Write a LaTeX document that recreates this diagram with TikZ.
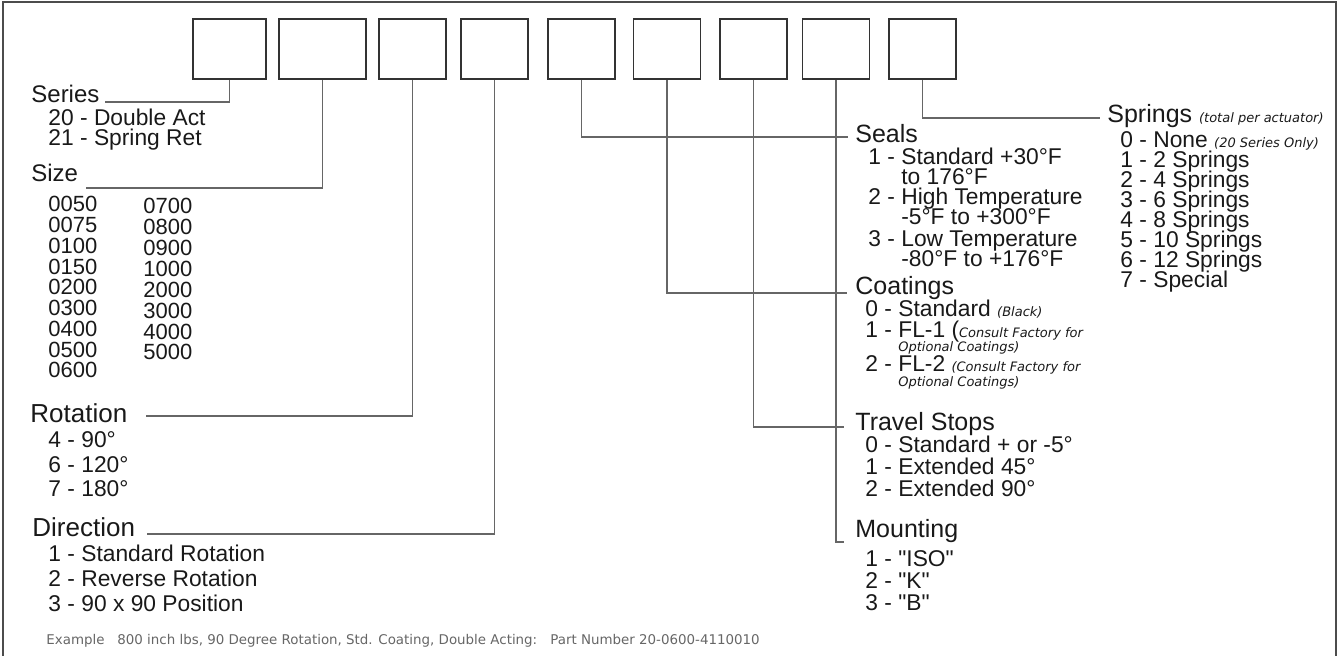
\documentclass[tikz,border=0pt]{standalone}
\usepackage{fontspec}
\setmainfont{Liberation Sans}
\newfontfamily\plainfont{Liberation Sans}
\newfontfamily\notefont{DejaVu Sans}
\newcommand{\note}[1]{{\notefont\itshape\fontsize{6.5}{7}\selectfont #1}}
\newcommand{\ind}{\phantom{1 - }}
\lineskiplimit=-20pt
\lineskip=0pt

\begin{document}
\begin{tikzpicture}[x=0.5pt, y=-0.5pt]
  \tikzset{
    slot/.style={draw=black!80, line width=0.8pt, minimum height=30pt, inner sep=0pt},
    lead/.style={draw=black!60, line width=0.7pt},
    head/.style={anchor=base west, inner sep=0pt, text=black!90, font=\fontsize{12.5}{12}\selectfont},
    items/.style={anchor=base west, inner sep=0pt, align=left, text=black!90, font=\fontsize{11.4}{10}\selectfont},
    sample/.style={anchor=base west, inner sep=0pt, text=black!60, font=\notefont\fontsize{6.7}{8}\selectfont}
  }
  \useasboundingbox (0,0) rectangle (1344,656);
  \draw[black!70, line width=1pt] (3,656) -- (3,2) -- (1336,2) -- (1336,656);

  \node[slot, minimum width=36.5pt] (b1) at (229.5,49) {};
  \node[slot, minimum width=43.5pt] (b2) at (322.5,49) {};
  \foreach \n/\c in {3/412.5,4/494.5,5/581.5,6/667,7/753.5,8/836,9/922.5}
    \node[slot, minimum width=33.5pt] (b\n) at (\c,49) {};

  % multi-line lists sit on the baseline of their last line
  \node[head, font=\fontsize{12}{12}\selectfont] (series) at (31,103) {Series};
  \node[items] (seritems) at (48,146) {20 - Double Act\\21 - Spring Ret};
  \node[head, font=\fontsize{12}{12}\selectfont] (size) at (31,182) {Size};
  \node[items, font=\fontsize{11}{10.375}\selectfont] (sizea) at (48,378)
    {0050\\0075\\0100\\0150\\0200\\0300\\0400\\0500\\0600};
  \node[items, font=\fontsize{11}{10.43}\selectfont] (sizeb) at (143,360)
    {0700\\0800\\0900\\1000\\2000\\3000\\4000\\5000};
  \node[head, font=\fontsize{13}{13}\selectfont] (rot) at (30,423) {Rotation};
  \node[items, font=\fontsize{11.4}{12.25}\selectfont] (rotitems) at (48,497)
    {4 - 90°\\6 - 120°\\7 - 180°};
  \node[head, font=\fontsize{13}{13}\selectfont] (dir) at (32,537) {Direction};
  \node[items, font=\fontsize{11.4}{12.5}\selectfont] (diritems) at (48,612)
    {1 - Standard Rotation\\2 - Reverse Rotation\\3 - 90 x 90 Position};

  \node[head] (seals) at (855,143) {Seals};
  \node[items] (sealitems) at (868,267)
    {1 - Standard +30°F\\\ind to 176°F\\2 - High Temperature\\\ind -5°F to +300°F\\[1pt]3 - Low Temperature\\\ind -80°F to +176°F};
  \node[head] (coat) at (855,295) {Coatings};
  \node[items, font=\fontsize{11.4}{10.25}\selectfont] (coatitems) at (865,387)
    {0 - Standard \note{(Black)}\\1 - FL-1 (\note{Consult Factory for}\\[-3.25pt]\ind\note{Optional Coatings)}\\2 - FL-2 \note{(Consult Factory for}\\[-2.75pt]\ind\note{Optional Coatings)}};
  \node[head] (travel) at (855,431) {Travel Stops};
  \node[items, font=\fontsize{11.4}{11}\selectfont] (travelitems) at (865,497)
    {0 - Standard + or -5°\\1 - Extended 45°\\2 - Extended 90°};
  \node[head] (mount) at (855,538) {Mounting};
  \node[items, font=\plainfont\fontsize{11.4}{11}\selectfont] (mountitems) at (865,611)
    {1 - "ISO"\\2 - "K"\\3 - "B"};
  \node[head] (springs) at (1107,123) {Springs \note{(total per actuator)}};
  \node[items, font=\fontsize{11.4}{10.07}\selectfont] (springitems) at (1120,288)
    {0 - None \note{(20 Series Only)}\\1 - 2 Springs\\2 - 4 Springs\\3 - 6 Springs\\4 - 8 Springs\\5 - 10 Springs\\6 - 12 Springs\\7 - Special};

  \draw[lead] (b1.south) |- ([xshift=2.5pt,yshift=0.5pt]series.base east);
  \draw[lead] (b2.south) |- ([xshift=4pt,yshift=-3pt]size.base east);
  \draw[lead] (b3.south) |- ([xshift=9pt,yshift=3.5pt]rot.base east);
  \draw[lead] (b4.south) |- ([xshift=6pt,yshift=1.5pt]dir.base east);
  \draw[lead] (b5.south) |- ([xshift=-3.5pt,yshift=3pt]seals.base west);
  \draw[lead] (b6.south) |- ([xshift=-4pt,yshift=1pt]coat.base west);
  \draw[lead] (b7.south) |- ([xshift=-5.5pt,yshift=2pt]travel.base west);
  \draw[lead] (b8.south) |- ([xshift=-5.5pt,yshift=-2pt]mount.base west);
  \draw[lead] (b9.south) |- ([xshift=-3.5pt,yshift=2.5pt]springs.base west);

  \node[sample] (ex) at (46,645) {Example};
  \node[sample] (exdesc) at (117,645) {800 inch lbs, 90 Degree Rotation, Std. Coating, Double Acting:};
  \node[sample] (expart) at (550,645) {Part Number 20-0600-4110010};
\end{tikzpicture}
\end{document}
